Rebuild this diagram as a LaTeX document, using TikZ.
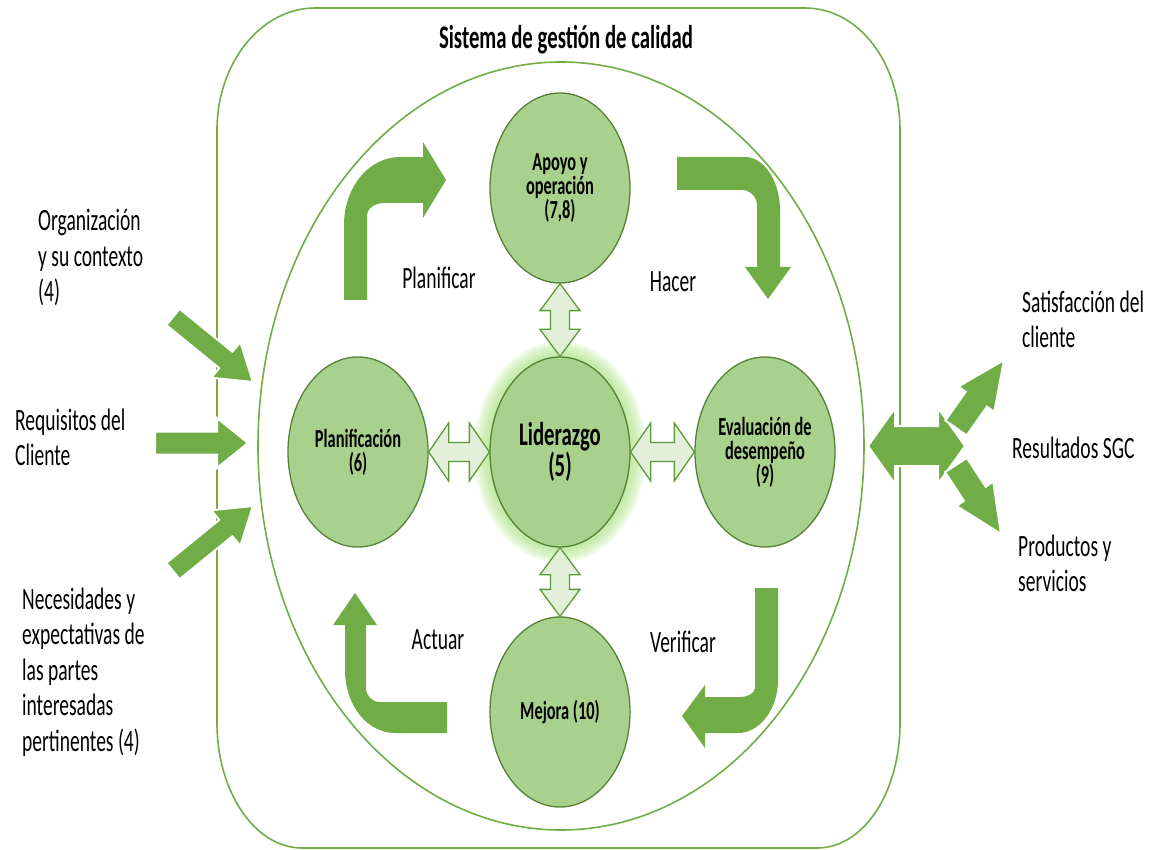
\documentclass[tikz,border=0pt]{standalone}
\usepackage{fontspec}
\setmainfont{Carlito}[FakeStretch=0.63]
\usetikzlibrary{shapes.geometric,calc}

\definecolor{arrowgreen}{HTML}{70AD47}
\definecolor{stagefill}{HTML}{A9D18E}
\definecolor{stageline}{HTML}{548235}
\definecolor{linkfill}{HTML}{E2F0D9}
\definecolor{linkline}{HTML}{5E9A3A}
\definecolor{glowgreen}{HTML}{A6E07A}

% straight block arrow from #1 to #2: shaft half width #3, head half width #4, head length #5, style #6
\newcommand\BlockArrow[6]{%
  \coordinate (ba-h) at ($(#2)!#5!(#1)$);
  \path[#6] ($(#1)!#3!90:(#2)$) -- ($(ba-h)!#3!90:(#2)$) -- ($(ba-h)!#4!90:(#2)$)
    -- (#2) -- ($(ba-h)!#4!-90:(#2)$) -- ($(ba-h)!#3!-90:(#2)$)
    -- ($(#1)!#3!-90:(#2)$) -- cycle;}

% double-headed block arrow between #1 and #2, same parameters
\newcommand\TwinArrow[6]{%
  \coordinate (ta-a) at ($(#1)!#5!(#2)$);
  \coordinate (ta-b) at ($(#2)!#5!(#1)$);
  \path[#6] (#1) -- ($(ta-a)!#4!90:(#2)$) -- ($(ta-a)!#3!90:(#2)$)
    -- ($(ta-b)!#3!-90:(#1)$) -- ($(ta-b)!#4!-90:(#1)$) -- (#2)
    -- ($(ta-b)!#4!90:(#1)$) -- ($(ta-b)!#3!90:(#1)$)
    -- ($(ta-a)!#3!-90:(#2)$) -- ($(ta-a)!#4!-90:(#2)$) -- cycle;}

\begin{document}
\begin{tikzpicture}[x=1pt,y=-1pt,
  frame/.style={draw=arrowgreen, line width=1.6pt},
  bigarr/.style={fill=arrowgreen},
  inarr/.style={fill=arrowgreen, draw=white, line width=2pt, line join=miter},
  linkarr/.style={fill=linkfill, draw=linkline, line width=1.3pt, line join=miter},
  stage/.style={ellipse, draw=stageline, fill=stagefill, line width=1.3pt,
    minimum width=140pt, minimum height=190pt, inner sep=0pt, align=center,
    font=\bfseries\fontsize{26}{24}\selectfont},
  lbl/.style={font=\fontsize{31}{35.5}\selectfont, align=left, inner sep=0pt},
  cyc/.style={font=\fontsize{31}{35.5}\selectfont, inner sep=0pt},
]
\useasboundingbox (0,0) rectangle (1162,850);

% system boundary with large rounded corners
\draw[frame] (217,130) .. controls (217,63) and (261,8) .. (315,8) -- (805,8)
  .. controls (859,8) and (900,63) .. (900,130) -- (900,723)
  .. controls (900,792) and (864,848) .. (817,848) -- (302,848)
  .. controls (255,848) and (217,792) .. (217,723) -- cycle;
\node[font=\bfseries\fontsize{33}{33}\selectfont] (title) at (566,40) {Sistema de gestión de calidad};

% inner cycle
\draw[frame] (561,446) ellipse [x radius=303pt, y radius=384pt];

% PDCA bent arrows
\path[bigarr] (344,300) -- (344,225) .. controls (344,187) and (369,157) .. (400,157)
  -- (423,157) -- (423,142) -- (446,180) -- (423,218) -- (423,203) -- (385,203)
  .. controls (375,203) and (367,208) .. (367,216) -- (367,300) -- cycle;
\path[bigarr] (677,157) -- (745,157) .. controls (764,157) and (780,181) .. (780,210)
  -- (780,267) -- (791,267) -- (768,299) -- (745,267) -- (757,267) -- (757,205)
  .. controls (757,197) and (750,190) .. (742,190) -- (677,190) -- cycle;
\path[bigarr] (447,733) -- (395,733) .. controls (367,733) and (345,705) .. (345,670)
  -- (345,625) -- (333,625) -- (355,593) -- (377,625) -- (366,625) -- (366,688)
  .. controls (366,696) and (372,702) .. (380,702) -- (447,702) -- cycle;
\path[bigarr] (755,588) -- (778,588) -- (778,680) .. controls (778,709) and (760,733) .. (738,733)
  -- (705,733) -- (705,748) -- (682,716) -- (705,685) -- (705,697) -- (740,697)
  .. controls (748,697) and (755,693) .. (755,688) -- cycle;

\node[cyc] (tplan) at (439,278) {Planificar};
\node[cyc] (thac) at (673,282) {Hacer};
\node[cyc] (tact) at (438,640) {Actuar};
\node[cyc] (tver) at (683,642) {Verificar};

% soft halo behind the leadership stage
\foreach \g in {16,14,...,2}{
  \fill[glowgreen, opacity=0.13] (560,452) ellipse [x radius=70pt+\g pt, y radius=95pt+\g pt];
}

% stages
\node[stage] (apo) at (560,188) {Apoyo y\\operación\\(7,8)};
\node[stage] (plan) at (358,452) {Planificación\\(6)};
\node[stage, font=\bfseries\fontsize{33}{31}\selectfont] (lid) at (560,452) {Liderazgo\\(5)};
\node[stage] (eval) at (765,452) {Evaluación de\\desempeño\\(9)};
\node[stage] (mej) at (560,712) {Mejora (10)};

% links to leadership
\TwinArrow{apo.south}{lid.north}{9.5pt}{20pt}{27pt}{linkarr}
\TwinArrow{lid.south}{mej.north}{9.5pt}{20pt}{27pt}{linkarr}
\TwinArrow{plan.east}{lid.west}{9.5pt}{29pt}{20pt}{linkarr}
\TwinArrow{lid.east}{eval.west}{9.5pt}{29pt}{20pt}{linkarr}

% inputs (anchored at the baseline of the last line)
\node[lbl, anchor=base west] (org) at (38,302) {Organización\\y su contexto\\(4)};
\node[lbl, anchor=base west] (req) at (15,465.5) {Requisitos del\\Cliente};
\node[lbl, anchor=base west] (nec) at (22,751) {Necesidades y\\expectativas de\\las partes\\interesadas\\pertinentes (4)};

\coordinate (in1a) at (173,317);  \coordinate (in1b) at (253,382);
\coordinate (in2a) at (155,443);  \coordinate (in2b) at (248,443);
\coordinate (in3a) at (173,571);  \coordinate (in3b) at (253,506);
\BlockArrow{in1a}{in1b}{10.5pt}{23pt}{35pt}{inarr}
\BlockArrow{in2a}{in2b}{11.5pt}{25pt}{31pt}{inarr}
\BlockArrow{in3a}{in3b}{10.5pt}{23pt}{35pt}{inarr}

% outputs
\coordinate (outl) at (868,446);  \coordinate (outr) at (965,446);
\TwinArrow{outl}{outr}{20pt}{38pt}{27pt}{inarr}
\coordinate (up1) at (956,428);   \coordinate (up2) at (1004,360);
\coordinate (dn1) at (956,465);   \coordinate (dn2) at (1001,534);
\BlockArrow{up1}{up2}{13pt}{22pt}{48pt}{inarr}
\BlockArrow{dn1}{dn2}{13pt}{22pt}{48pt}{inarr}

\node[lbl, anchor=base west] (sat) at (1022,347.5) {Satisfacción del\\cliente};
\node[lbl, anchor=base west] (res) at (1012,458) {Resultados SGC};
\node[lbl, anchor=base west] (prod) at (1018,591.5) {Productos y\\servicios};
\end{tikzpicture}
\end{document}
